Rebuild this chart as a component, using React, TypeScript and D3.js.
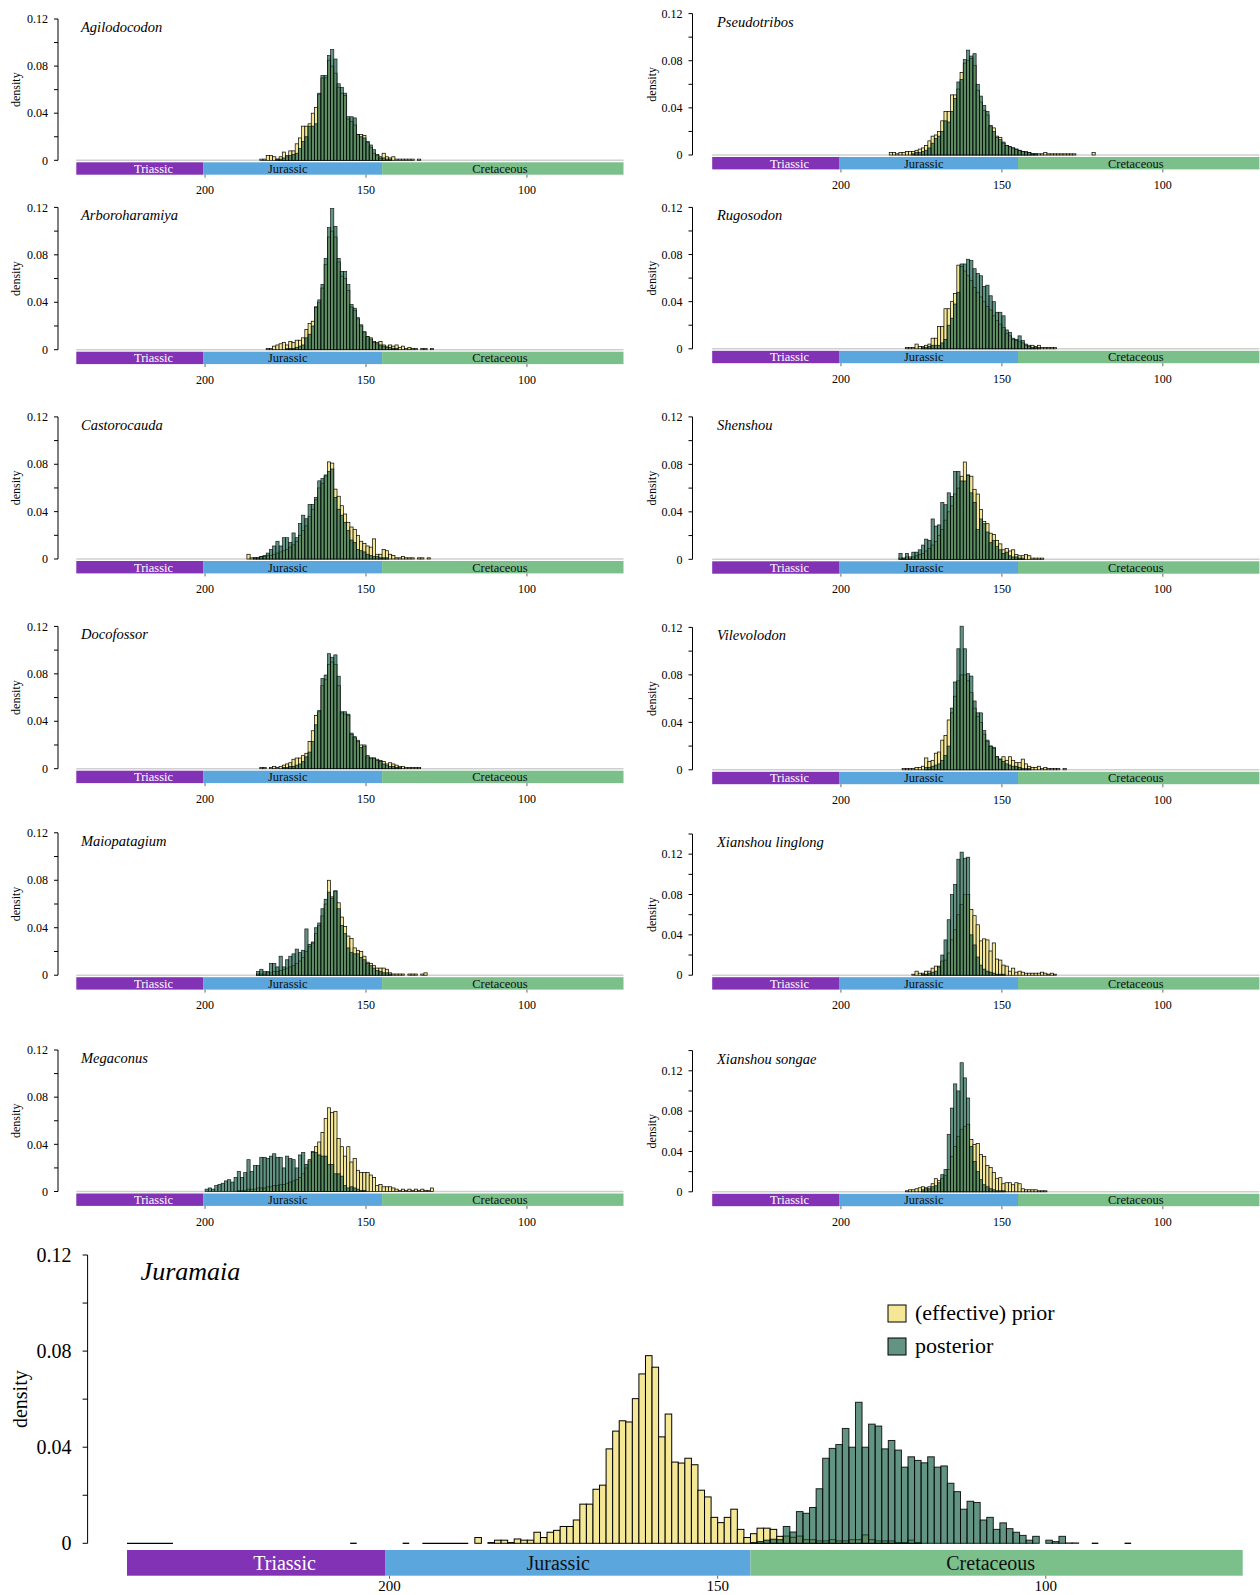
import React from 'react';
import * as d3 from 'd3';

// Histograms use 1 Myr bins. Each series lists density x 1000, starting with
// the bin whose older edge is `...Start` Ma and stepping towards the present.

const agilodocodonPostStart = 178;
const agilodocodonPost = [1,1,2,3,4,5,6,10,16,20,29,29,31,57,72,72,89,94,86,65,62,57,37,37,36,22,20,19,16,13,9,4,2,2,1,1];
const agilodocodonPriorStart = 183;
const agilodocodonPrior = [1,1,4,4,3,1,3,7,4,8,8,14,19,29,29,31,40,45,56,70,70,85,80,74,62,57,55,35,33,30,22,22,21,15,11,6,5,3,6,3,2,3,1,1,1,1,1,1,0,1];

const arboroharamiyaPostStart = 175;
const arboroharamiyaPost = [1,1,1,2,3,4,10,13,20,36,42,55,77,103,119,104,77,66,66,55,38,35,27,21,15,11,9,6,5,4,3,2,2,1,1];
const arboroharamiyaPriorStart = 181;
const arboroharamiyaPrior = [1,1,3,4,5,6,4,7,6,8,8,10,17,22,24,36,40,52,72,95,100,95,74,62,60,50,36,33,26,20,15,11,10,7,6,7,4,3,4,3,4,2,3,1,2,1,1,0,1,1,0,1];

const castorocaudaPostStart = 185;
const castorocaudaPost = [1,1,2,3,5,8,11,15,11,18,18,14,22,18,30,37,34,46,46,52,66,68,71,74,76,52,42,37,31,24,16,14,8,7,6,4,3,2,2,1,1,1];
const castorocaudaPriorStart = 187;
const castorocaudaPrior = [4,1,1,1,2,2,3,3,4,5,6,7,8,10,12,15,20,24,28,36,42,50,60,64,70,82,81,59,53,45,38,31,27,25,20,15,13,11,10,17,4,4,8,7,4,3,1,1,2,1,1,1,0,1,1,0,1];

const docofossorPostStart = 176;
const docofossorPost = [1,1,2,2,3,4,6,10,14,23,37,49,76,79,97,94,96,78,48,48,46,30,27,23,18,19,10,9,9,7,6,4,3,2,2,1,1];
const docofossorPriorStart = 183;
const docofossorPrior = [1,1,0,1,2,1,2,3,4,5,8,9,9,11,13,23,32,45,48,70,75,88,90,88,70,47,46,45,29,26,24,20,20,11,9,9,8,7,6,4,5,4,3,2,2,1,1,1,1,1];

const maiopatagiumPostStart = 184;
const maiopatagiumPost = [3,5,3,3,10,10,7,16,7,13,16,18,22,19,21,39,26,28,40,44,56,64,70,65,71,56,42,35,23,19,18,18,15,13,10,8,6,4,3,2,2,1];
const maiopatagiumPriorStart = 184;
const maiopatagiumPrior = [1,1,1,2,2,3,3,4,5,6,7,8,10,12,15,20,24,27,35,42,50,60,80,66,71,61,49,41,33,31,23,21,20,16,11,10,8,6,6,6,5,2,1,1,1,1,0,1,1,1,0,1,2];

const megaconusPostStart = 200;
const megaconusPost = [2,3,2,5,6,7,9,10,8,12,17,12,16,27,17,22,22,29,29,28,30,32,29,29,20,30,28,27,20,31,33,23,26,34,33,31,30,30,23,23,15,15,13,5,3,4,3,2,1,1];
const megaconusPriorStart = 190;
const megaconusPrior = [1,1,1,2,2,2,3,3,3,4,4,5,5,6,6,7,8,9,10,12,15,20,27,33,38,42,50,62,71,67,68,45,38,30,38,25,28,18,16,16,16,14,12,5,6,4,4,4,3,2,1,2,1,2,1,2,1,2,1,1,3];

const pseudotribosPostStart = 178;
const pseudotribosPost = [1,2,2,3,4,6,10,14,16,20,29,28,37,48,62,64,81,89,84,86,60,50,42,37,24,20,15,13,11,8,7,6,5,4,3,2,2,1,1];
const pseudotribosPriorStart = 185;
const pseudotribosPrior = [2,2,1,2,2,3,3,3,4,5,6,8,12,16,17,20,29,37,37,51,51,56,70,78,80,82,76,55,45,38,34,25,23,16,15,10,8,7,6,5,4,3,3,2,1,1,1,1,2,1,1,1,1,1,1,1,1,1,0,0,0,0,0,2];

const rugosodonPostStart = 175;
const rugosodonPost = [1,1,2,3,3,3,5,8,20,26,38,48,72,72,76,75,68,64,62,53,54,45,40,31,31,28,16,14,9,8,11,7,4,2,1,1,1];
const rugosodonPriorStart = 180;
const rugosodonPrior = [1,1,1,4,2,2,3,4,9,9,19,19,34,34,40,47,71,70,66,62,58,52,48,44,40,36,33,28,24,21,18,13,11,8,7,6,5,3,3,3,2,3,1,1,1,1,1];

const shenshouPostStart = 182;
const shenshouPost = [5,1,5,1,6,6,8,12,17,16,34,28,29,48,46,56,53,74,74,66,66,71,56,48,25,34,30,23,14,16,11,8,5,6,3,2,2,1,1];
const shenshouPriorStart = 182;
const shenshouPrior = [1,1,2,2,2,3,4,5,7,9,12,15,20,25,33,40,45,55,60,70,82,71,70,59,55,42,32,30,22,21,16,13,8,9,7,8,4,3,3,4,3,1,1,1,1];

const vilevolodonPostStart = 174;
const vilevolodonPost = [2,2,3,4,5,8,12,20,52,74,102,121,102,81,79,58,48,48,33,25,20,19,11,9,7,5,4,3,3,2,1,1,1];
const vilevolodonPriorStart = 181;
const vilevolodonPrior = [1,1,1,1,2,2,3,10,7,8,14,15,25,29,42,48,62,75,80,80,75,65,52,45,40,30,24,20,18,11,9,11,8,11,8,6,6,9,5,3,2,2,3,1,2,1,1,1,1,0,1];

const linglongPostStart = 175;
const linglongPost = [1,1,2,3,4,9,20,35,55,80,90,115,122,116,117,40,30,18,10,6,4,3,2,1,1,1];
const linglongPriorStart = 178;
const linglongPrior = [1,4,2,2,4,4,7,9,8,14,15,22,35,45,60,70,80,80,65,59,50,34,36,35,24,32,16,15,10,9,4,7,3,4,3,2,2,2,2,2,3,2,1,2,1];

const songaePostStart = 175;
const songaePost = [2,3,3,5,6,9,17,22,57,83,107,100,128,113,93,45,30,20,12,7,5,3,2,1,1,1];
const songaePriorStart = 180;
const songaePrior = [1,2,2,3,4,5,4,5,8,13,11,13,16,22,35,45,55,62,65,67,52,47,48,37,35,26,24,19,13,14,8,9,9,7,9,8,3,2,2,2,2,1,1,1];

const juramaiaPriorStart = 187;
const juramaiaPrior = [2.4,0,0.3,1.3,1.3,0.3,1.8,1.3,1.3,4.6,2.4,4.6,5.4,7.0,7.0,9.7,16.3,16.3,22.5,24.2,39.3,46.7,51.0,50.5,60.2,70.5,78.1,73.3,44.3,53.8,33.8,33.4,35.4,32.7,22.1,19.3,10.8,8.6,10.8,14.2,5.8,2.4,4.0,6.3,6.3,5.8,2.9,3.0,2.5,3.0,1.5,1.5,1.0,1.0,1.5,1.0,1.0,1.5,1.5,3.5,1.5,1.0,1.0,1.0,0.3,0.3,1.3,0.3];
const juramaiaPostStart = 145;
const juramaiaPost = [0.3,0.7,1.3,1.7,1.5,7.0,4.7,13.2,12.5,14.9,22.7,35.4,39.5,41.1,47.8,40.0,58.7,40.0,49.6,48.8,39.3,42.8,38.8,31.7,36.0,34.5,33.5,36.0,31.7,32.2,25.0,21.5,14.2,17.5,17.0,9.7,10.8,5.8,8.5,6.1,4.6,3.3,1.3,2.9,0,1.3,0.7,2.9,0.15,0.15];
// empty bins drawn as flat outlines on the zero line (older edge, younger edge)
const juramaiaEmptyRuns = [[240, 233], [206, 205], [198, 197], [195, 188], [93, 92], [88, 87]];

const periodNames = ['Triassic', 'Jurassic', 'Cretaceous'];
const periodOlder = [240, 200.6, 145];
const periodYounger = [200.6, 145, 70];
const periodLabelAge = [216, 174.3, 108.4];
const ageTicks = [200, 150, 100];
const ageDomain = [240, 70];
const densityLabels = [0, 0.04, 0.08, 0.12];

const PRIOR_FILL = '#f4e796';
const POST_FILL = 'rgb(24,96,72)';
const POST_OPACITY = 0.68;
const PERIOD_FILL = ['#8232b4', '#5aa6dd', '#7bbf8b'];
const PERIOD_TEXT = ['#ffffff', '#111111', '#111111'];
const FONT = '"Liberation Serif", "Times New Roman", serif';

type Series = { start: number; values: number[] };
type Taxon = { name: string; prior: Series; post: Series; yMax: number };

const s = (start: number, values: number[]): Series => ({ start, values });

const leftTaxa: Taxon[] = [
  { name: 'Agilodocodon', prior: s(agilodocodonPriorStart, agilodocodonPrior), post: s(agilodocodonPostStart, agilodocodonPost), yMax: 0.12 },
  { name: 'Arboroharamiya', prior: s(arboroharamiyaPriorStart, arboroharamiyaPrior), post: s(arboroharamiyaPostStart, arboroharamiyaPost), yMax: 0.12 },
  { name: 'Castorocauda', prior: s(castorocaudaPriorStart, castorocaudaPrior), post: s(castorocaudaPostStart, castorocaudaPost), yMax: 0.12 },
  { name: 'Docofossor', prior: s(docofossorPriorStart, docofossorPrior), post: s(docofossorPostStart, docofossorPost), yMax: 0.12 },
  { name: 'Maiopatagium', prior: s(maiopatagiumPriorStart, maiopatagiumPrior), post: s(maiopatagiumPostStart, maiopatagiumPost), yMax: 0.12 },
  { name: 'Megaconus', prior: s(megaconusPriorStart, megaconusPrior), post: s(megaconusPostStart, megaconusPost), yMax: 0.12 },
];
const rightTaxa: Taxon[] = [
  { name: 'Pseudotribos', prior: s(pseudotribosPriorStart, pseudotribosPrior), post: s(pseudotribosPostStart, pseudotribosPost), yMax: 0.12 },
  { name: 'Rugosodon', prior: s(rugosodonPriorStart, rugosodonPrior), post: s(rugosodonPostStart, rugosodonPost), yMax: 0.12 },
  { name: 'Shenshou', prior: s(shenshouPriorStart, shenshouPrior), post: s(shenshouPostStart, shenshouPost), yMax: 0.12 },
  { name: 'Vilevolodon', prior: s(vilevolodonPriorStart, vilevolodonPrior), post: s(vilevolodonPostStart, vilevolodonPost), yMax: 0.12 },
  { name: 'Xianshou linglong', prior: s(linglongPriorStart, linglongPrior), post: s(linglongPostStart, linglongPost), yMax: 0.14 },
  { name: 'Xianshou songae', prior: s(songaePriorStart, songaePrior), post: s(songaePostStart, songaePost), yMax: 0.14 },
];
const juramaia: Taxon = { name: 'Juramaia', prior: s(juramaiaPriorStart, juramaiaPrior), post: s(juramaiaPostStart, juramaiaPost), yMax: 0.12 };

// layout: [y of the top of the density axis, y of zero]
const leftRows = [[19, 160.3], [207.4, 349.7], [416.9, 559], [626.4, 768.7], [832.8, 975.2], [1050, 1191.5]];
const rightRows = [[13.6, 155], [207.4, 348.8], [416.9, 559.3], [627.4, 769.8], [834, 975.2], [1050.6, 1191.8]];
const leftCol = { axisX: 58, x0: 76.3, x1: 623.5, titleX: 81, ylabX: 16 };
const rightCol = { axisX: 692.5, x0: 712.2, x1: 1259.4, titleX: 717, ylabX: 652 };

const small = { tick: 12, xtick: 12, title: 14.5, period: 12.5, ylab: 12, tickLen: 4, labGap: 10, barGap: 2, barH: 12.4, xlabDy: 34, sw: 0.7, titleDy: 13 };
const large = { tick: 20, xtick: 15, title: 26, period: 20, ylab: 20, tickLen: 5, labGap: 16, barGap: 6.7, barH: 25.7, xlabDy: 47.5, sw: 1, titleDy: 25 };

type Sz = typeof small;

function Bars({ series, x, y, fill, opacity, sw }: { series: Series; x: d3.ScaleLinear<number, number>; y: d3.ScaleLinear<number, number>; fill: string; opacity: number; sw: number }) {
  return (
    <g>
      {series.values.map((v, i) => {
        if (v <= 0) return null;
        const age = series.start - i;
        const xa = x(age);
        const xb = x(age - 1);
        const y1 = y(v / 1000);
        return (
          <rect key={i} x={xa} y={y1} width={xb - xa} height={y(0) - y1}
            fill={fill} fillOpacity={opacity} stroke="#000" strokeWidth={sw} strokeOpacity={opacity < 1 ? 0.85 : 1} />
        );
      })}
    </g>
  );
}

function Panel({ taxon, col, top, base, sz, baseline, empty }: { taxon: Taxon; col: typeof leftCol; top: number; base: number; sz: Sz; baseline: boolean; empty?: number[][] }) {
  const x = d3.scaleLinear().domain(ageDomain).range([col.x0, col.x1]);
  const y = d3.scaleLinear().domain([0, taxon.yMax]).range([base, top]);
  const tickVals = d3.range(0, taxon.yMax + 1e-9, 0.02);
  const barTop = base + sz.barGap;
  return (
    <g fontFamily={FONT}>
      {baseline && <line x1={col.x0} x2={col.x1} y1={base} y2={base} stroke="#cfcfcf" strokeWidth={1.4} />}
      {empty && empty.map(([a, b], i) => (
        <line key={i} x1={x(a)} x2={x(b)} y1={base} y2={base} stroke="#000" strokeWidth={sz.sw + 0.3} />
      ))}
      <Bars series={taxon.prior} x={x} y={y} fill={PRIOR_FILL} opacity={1} sw={sz.sw} />
      <Bars series={taxon.post} x={x} y={y} fill={POST_FILL} opacity={POST_OPACITY} sw={sz.sw} />
      <line x1={col.axisX} x2={col.axisX} y1={y(0)} y2={y(taxon.yMax)} stroke="#000" strokeWidth={1} />
      {tickVals.map((t, i) => (
        <line key={i} x1={col.axisX - sz.tickLen} x2={col.axisX} y1={y(t)} y2={y(t)} stroke="#000" strokeWidth={1} />
      ))}
      {densityLabels.map((t) => (
        <text key={t} x={col.axisX - sz.labGap} y={y(t)} dy="0.35em" textAnchor="end" fontSize={sz.tick}>
          {t === 0 ? '0' : t.toFixed(2)}
        </text>
      ))}
      <text transform={`translate(${col.ylabX},${(y(0) + y(0.12)) / 2}) rotate(-90)`} textAnchor="middle" dy="0.35em" fontSize={sz.ylab}>density</text>
      <text x={col.titleX} y={y(taxon.yMax) + sz.titleDy} fontStyle="italic" fontSize={sz.title}>{taxon.name}</text>
      {periodNames.map((p, i) => (
        <g key={p}>
          <rect x={x(periodOlder[i])} y={barTop} width={x(periodYounger[i]) - x(periodOlder[i])} height={sz.barH} fill={PERIOD_FILL[i]} />
          <text x={x(periodLabelAge[i])} y={barTop + sz.barH / 2} dy="0.35em" textAnchor="middle" fontSize={sz.period} fill={PERIOD_TEXT[i]}>{p}</text>
        </g>
      ))}
      {ageTicks.map((t) => (
        <g key={t}>
          <line x1={x(t)} x2={x(t)} y1={barTop + sz.barH} y2={barTop + sz.barH + 3} stroke="#666" strokeWidth={1} />
          <text x={x(t)} y={base + sz.xlabDy} textAnchor="middle" fontSize={sz.xtick}>{t}</text>
        </g>
      ))}
    </g>
  );
}

export default function App() {
  const bigCol = { axisX: 87.6, x0: 127, x1: 1242.7, titleX: 140.6, ylabX: 20 };
  return (
    <svg width={1260} height={1595} viewBox="0 0 1260 1595" style={{ position: 'absolute', left: 0, top: 0, background: '#fff' }}>
      <rect width={1260} height={1595} fill="#fff" />
      {leftTaxa.map((t, i) => (
        <Panel key={t.name} taxon={t} col={leftCol} top={leftRows[i][0]} base={leftRows[i][1]} sz={small} baseline />
      ))}
      {rightTaxa.map((t, i) => (
        <Panel key={t.name} taxon={t} col={rightCol} top={rightRows[i][0]} base={rightRows[i][1]} sz={small} baseline />
      ))}
      <Panel taxon={juramaia} col={bigCol} top={1255} base={1543.3} sz={large} baseline={false} empty={juramaiaEmptyRuns} />
      <g fontFamily={FONT} fontSize={22}>
        <rect x={888} y={1305} width={18} height={17} fill={PRIOR_FILL} stroke="#000" strokeWidth={1} />
        <text x={915} y={1320}>(effective) prior</text>
        <rect x={888} y={1338} width={18} height={17} fill={POST_FILL} fillOpacity={POST_OPACITY} stroke="#000" strokeWidth={1} />
        <text x={915} y={1353}>posterior</text>
      </g>
    </svg>
  );
}
